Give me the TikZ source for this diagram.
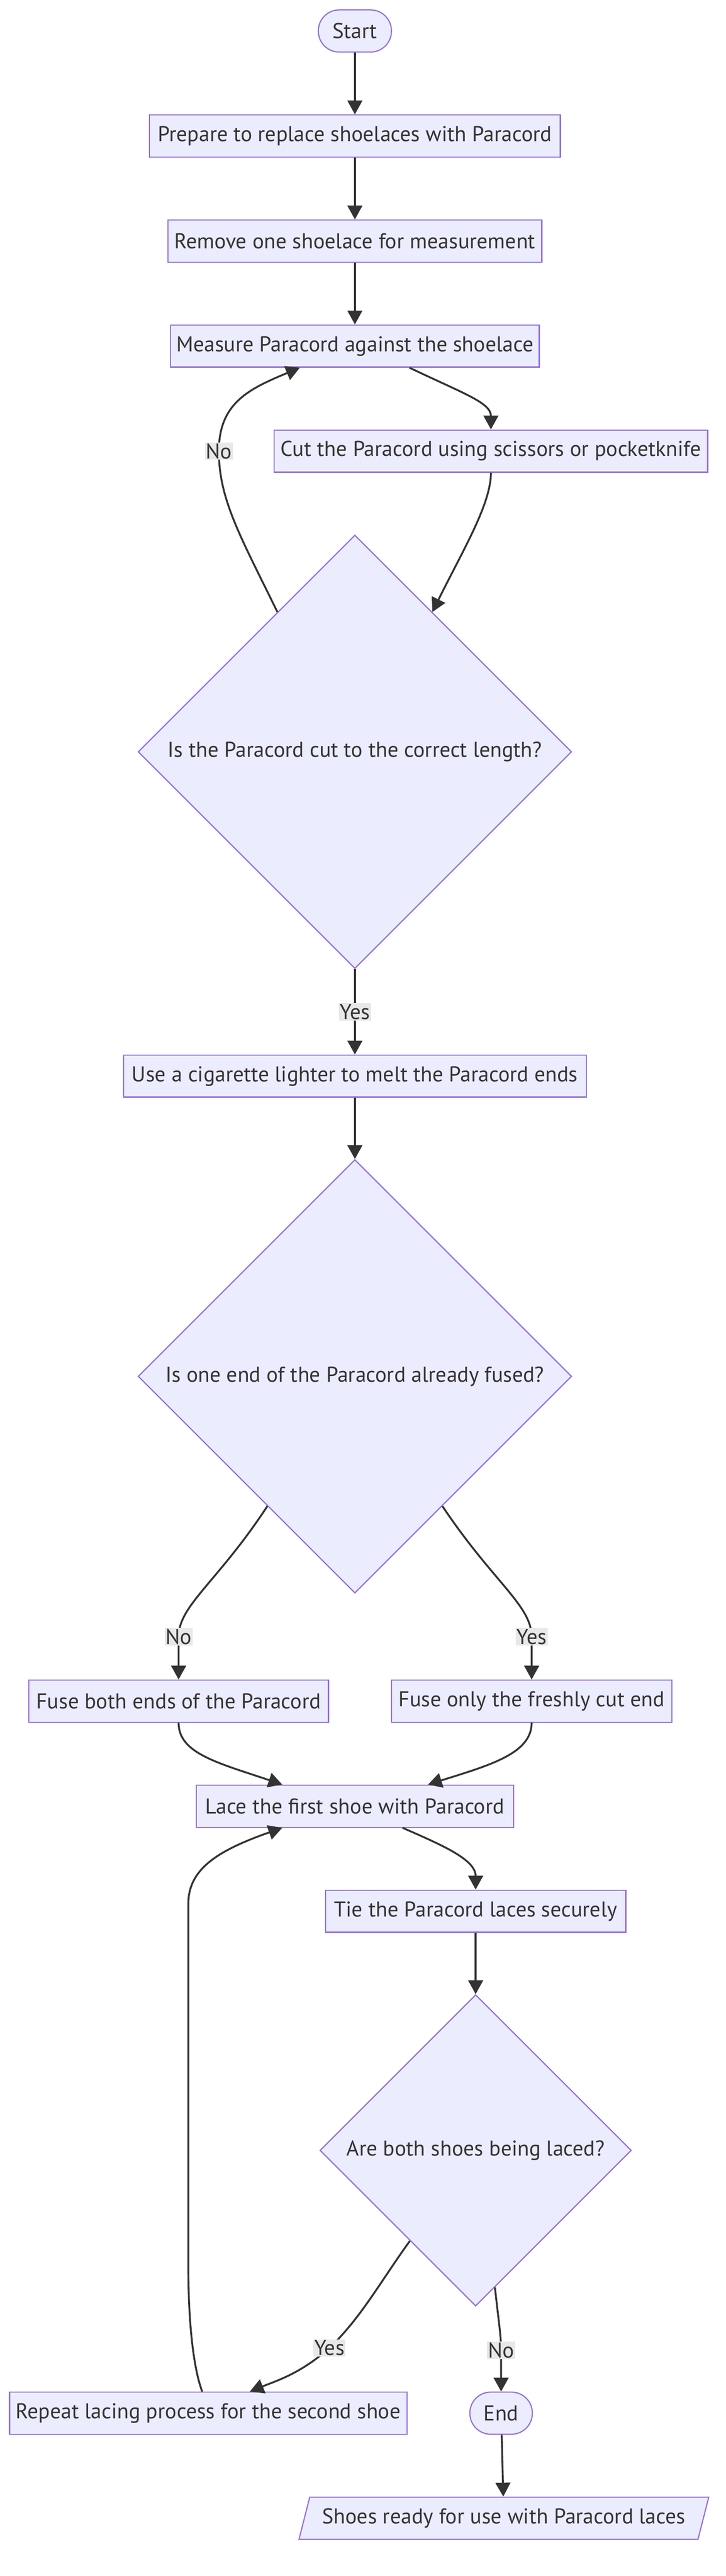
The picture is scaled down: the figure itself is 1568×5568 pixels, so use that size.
\documentclass[tikz,border=0pt]{standalone}
\usepackage{fontspec}
\setmainfont{PT Sans}
\usetikzlibrary{shapes.geometric,arrows.meta}

\definecolor{nodefill}{HTML}{ECECFF}
\definecolor{nodeline}{HTML}{9370DB}
\definecolor{ink}{HTML}{333333}
\definecolor{lblbg}{HTML}{E8E8E8}

\tikzset{
  box/.style={draw=nodeline, fill=nodefill, line width=2.5pt, text=ink,
    minimum height=91pt, inner sep=0pt, font=\fontsize{46.5}{54}\selectfont},
  stepbox/.style={box, rectangle},
  termbox/.style={box, rectangle, rounded corners=45pt},
  askbox/.style={box, diamond, aspect=1},
  outbox/.style={box, trapezium, trapezium left angle=63, trapezium right angle=117,
    trapezium stretches=true},
  flow/.style={draw=ink, line width=4pt, -{Triangle[length=30pt,width=32pt]}},
  lbl/.style={fill=lblbg, text=ink, inner sep=2pt, font=\fontsize{46.5}{54}\selectfont}
}

\begin{document}
\begin{tikzpicture}[x=1pt,y=-1pt]
    \fill[white] (0,0) rectangle (1568,5568);
    \useasboundingbox (0,0) rectangle (1568,5568);

    \node[termbox, minimum width=158pt] (start) at (767,67) {Start};
    \node[stepbox, minimum width=888pt] (prep) at (767,294) {Prepare to replace shoelaces with Paracord};
    \node[stepbox, minimum width=808pt] (remove) at (767,521) {Remove one shoelace for measurement};
    \node[stepbox, minimum width=797pt] (measure) at (767,748) {Measure Paracord against the shoelace};
    \node[stepbox, minimum width=937pt] (cut) at (1061,975) {Cut the Paracord using scissors or pocketknife};
    \node[askbox, minimum width=937pt, minimum height=937pt] (lengthok) at (767,1625) {Is the Paracord cut to the correct length?};
    \node[stepbox, minimum width=1000pt] (melt) at (767,2326) {Use a cigarette lighter to melt the Paracord ends};
    \node[askbox, minimum width=937pt, minimum height=937pt] (fused) at (767,2975) {Is one end of the Paracord already fused?};
    \node[stepbox, minimum width=648pt] (fuseboth) at (386,3677) {Fuse both ends of the Paracord};
    \node[stepbox, minimum width=606pt] (fuseone) at (1149,3677) {Fuse only the freshly cut end};
    \node[stepbox, minimum width=686pt] (lace) at (767,3904) {Lace the first shoe with Paracord};
    \node[stepbox, minimum width=649pt] (tie) at (1028,4131) {Tie the Paracord laces securely};
    \node[askbox, minimum width=673pt, minimum height=673pt] (bothshoes) at (1028,4648) {Are both shoes being laced?};
    \node[stepbox, minimum width=859pt] (repeat) at (450,5216) {Repeat lacing process for the second shoe};
    \node[termbox, minimum width=135pt] (end) at (1083,5216) {End};
    \node[outbox, minimum width=887pt] (ready) at (1089,5443) {Shoes ready for use with Paracord laces};

    \draw[flow] (start) -- (prep);
    \draw[flow] (prep) -- (remove);
    \draw[flow] (remove) -- (measure);
    \draw[flow] ([xshift=118pt]measure.south) .. controls (1000,850) and (1061,870) .. (cut.north);
    \draw[flow] (cut.south) .. controls (1061,1090) and (1000,1190) .. (lengthok.61);
    \draw[flow] (lengthok.119) .. controls (520,1160) and (473,1080) .. (473,975) node[lbl] {No}
        .. controls (473,870) and (540,840) .. ([xshift=-119pt]measure.south);
    \draw[flow] (lengthok.south) -- node[lbl] {Yes} (melt.north);
    \draw[flow] (melt) -- (fused.north);
    \draw[flow] (fused.236) .. controls (470,3420) and (386,3470) .. (386,3538) node[lbl] {No} -- (fuseboth.north);
    \draw[flow] (fused.304) .. controls (1066,3420) and (1149,3470) .. (1149,3538) node[lbl] {Yes} -- (fuseone.north);
    \draw[flow] (fuseboth.south) .. controls (386,3790) and (470,3810) .. ([xshift=-157pt]lace.north);
    \draw[flow] (fuseone.south) .. controls (1149,3790) and (1060,3815) .. ([xshift=158pt]lace.north);
    \draw[flow] ([xshift=103pt]lace.south) .. controls (960,3990) and (1028,4020) .. (tie.north);
    \draw[flow] (tie) -- (bothshoes.north);
    \draw[flow] (bothshoes.234) .. controls (820,4935) and (780,5010) .. (712,5075) node[lbl] {Yes}
        .. controls (650,5130) and (600,5145) .. ([xshift=90pt]repeat.north);
    \draw[flow] (bothshoes.278) .. controls (1078,5020) and (1083,5050) .. (1083,5080) node[lbl] {No} -- (end.north);
    \draw[flow] ([xshift=-13pt]repeat.north) .. controls (415,5110) and (407,5000) .. (407,4900)
        -- (407,4115) .. controls (407,4040) and (470,4000) .. ([xshift=-157pt]lace.south);
    \draw[flow] (end) -- (ready);
\end{tikzpicture}
\end{document}
